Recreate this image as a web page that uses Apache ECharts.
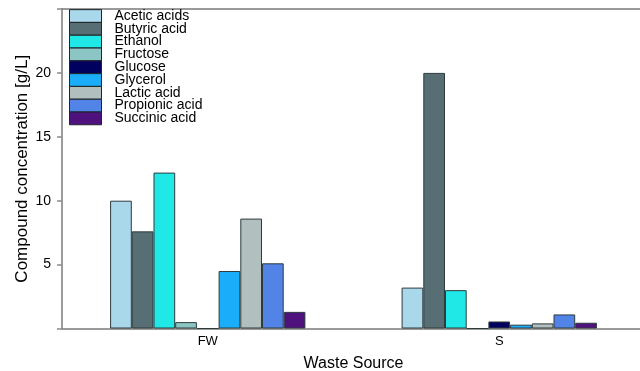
<!DOCTYPE html>
<html>
<head>
<meta charset="utf-8">
<style>
  html, body { margin: 0; padding: 0; background: #fff; }
  #chart { width: 640px; height: 371px; }
</style>
<script src="https://cdn.jsdelivr.net/npm/echarts@6/dist/echarts.min.js"></script>
</head>
<body>
<div id="chart"></div>
<script>
// Waste sources on the x axis
const sources = ['FW', 'S'];

// Compound names (legend order) and their fill colours
const compounds = ['Acetic acids', 'Butyric acid', 'Ethanol', 'Fructose', 'Glucose',
                   'Glycerol', 'Lactic acid', 'Propionic acid', 'Succinic acid'];
const colors = ['#a8d8ea', '#566e74', '#1fe8e6', '#8cc6c4', '#00005e',
                '#1aaefa', '#b2bfbf', '#5283e6', '#4e117e'];

// Concentrations in g/L, one array per compound: [FW, S]
const aceticAcids   = [10.0, 3.2];
const butyricAcid   = [7.6, 20.0];
const ethanol       = [12.2, 3.0];
const fructose      = [0.5, 0];
const glucose       = [0, 0.55];
const glycerol      = [4.5, 0.3];
const lacticAcid    = [8.6, 0.4];
const propionicAcid = [5.1, 1.1];
const succinicAcid  = [1.3, 0.45];

// Y axis ticks that carry a label
const yTickLabels = [5, 10, 15, 20];

const values = [aceticAcids, butyricAcid, ethanol, fructose, glucose,
                glycerol, lacticAcid, propionicAcid, succinicAcid];

const font = 'Liberation Sans, Arial, sans-serif';
const axisGray = '#7a7a7a';

const chart = echarts.init(document.getElementById('chart'), null, { renderer: 'canvas' });

chart.setOption({
  animation: false,
  backgroundColor: '#ffffff',
  grid: { left: 62, right: -5, top: 9, bottom: 42.5, containLabel: false, outerBoundsMode: 'none' },
  legend: {
    orient: 'vertical',
    left: 69,
    top: 9,
    itemWidth: 32,
    itemHeight: 12.7,
    itemGap: -1.2,
    padding: 0,
    icon: 'rect',
    selectedMode: false,
    data: compounds,
    itemStyle: { borderColor: '#1e2628', borderWidth: 1 },
    textStyle: {
      fontFamily: font,
      fontSize: 14,
      color: '#000',
      padding: [0, 0, 0, 8]
    }
  },
  xAxis: [{
    type: 'category',
    data: sources,
    name: 'Waste Source',
    nameLocation: 'middle',
    nameGap: 27,
    nameMoveOverlap: false,
    nameTextStyle: { fontFamily: font, fontSize: 16, color: '#000' },
    axisLine: { lineStyle: { color: axisGray, width: 1.5 } },
    axisTick: { show: false },
    axisLabel: { fontFamily: font, fontSize: 13, color: '#000', margin: 6 }
  }, {
    // top frame line of the plot area
    type: 'category',
    data: sources,
    position: 'top',
    axisLine: { show: true, lineStyle: { color: axisGray, width: 1.5 } },
    axisTick: { show: false },
    axisLabel: { show: false },
    splitLine: { show: false }
  }],
  yAxis: {
    type: 'value',
    min: 0,
    max: 25,
    interval: 5,
    name: 'Compound concentration [g/L]',
    nameLocation: 'middle',
    nameGap: 31,
    nameMoveOverlap: false,
    nameTextStyle: { fontFamily: font, fontSize: 17, color: '#000' },
    axisLine: { show: true, lineStyle: { color: axisGray, width: 1.5 } },
    axisTick: { show: true, length: 5, inside: false, lineStyle: { color: '#8a8a8a', width: 1.5 } },
    splitLine: { show: false },
    axisLabel: {
      fontFamily: font, fontSize: 14, color: '#000', margin: 11,
      formatter: function (v) { return yTickLabels.indexOf(v) >= 0 ? String(v) : ''; }
    }
  },
  series: compounds.map(function (name, i) {
    return {
      name: name,
      type: 'bar',
      data: values[i],
      barGap: '0%',
      barCategoryGap: '33%',
      itemStyle: { color: colors[i], borderColor: '#2e3b3d', borderWidth: 1 }
    };
  })
});
</script>
</body>
</html>
